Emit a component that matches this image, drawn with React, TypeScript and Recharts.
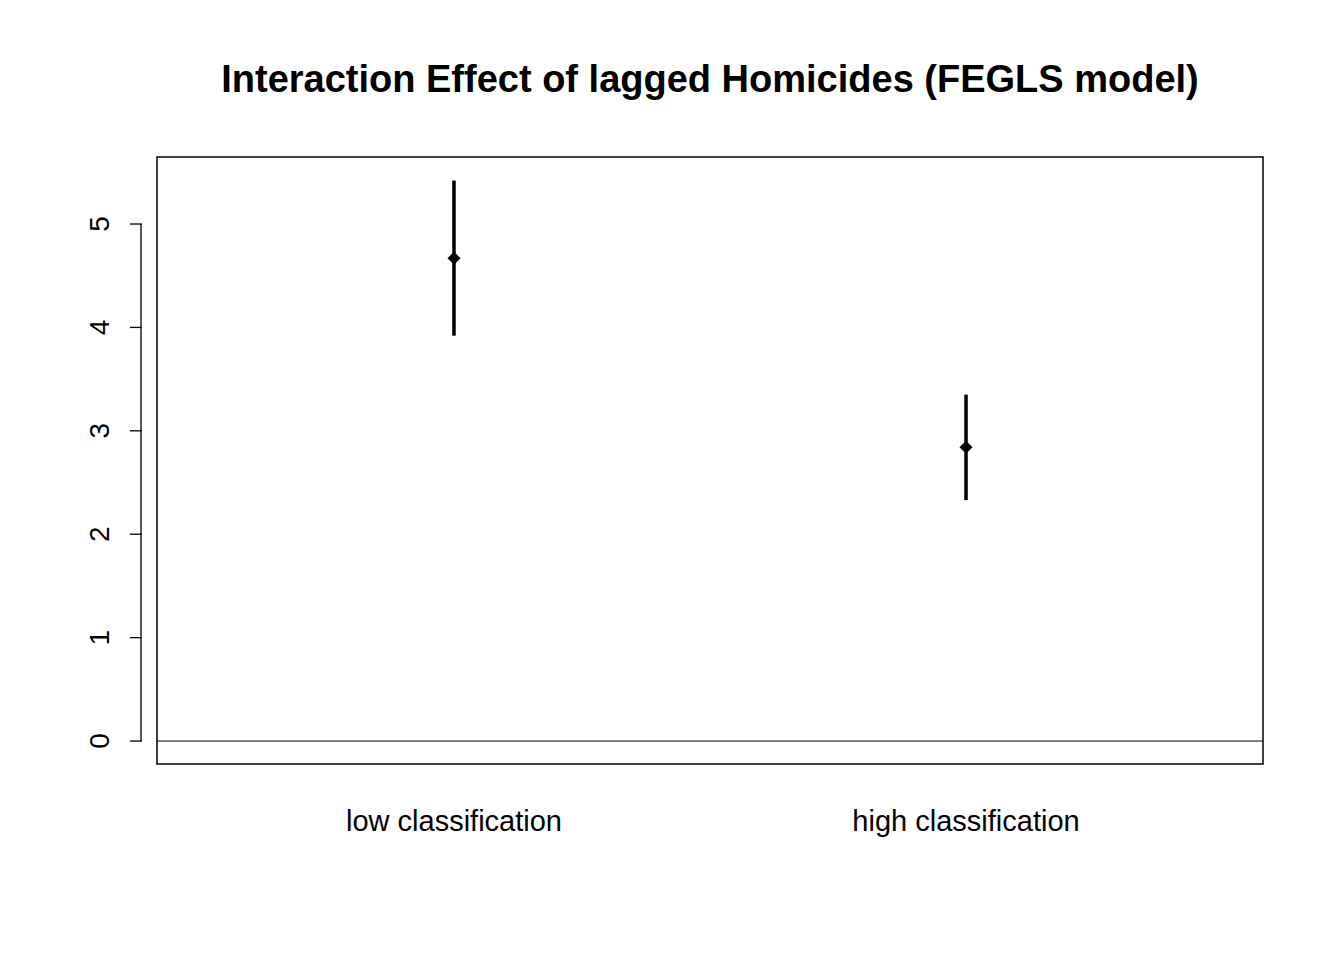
import { ComposedChart, Scatter, ErrorBar, XAxis, YAxis, ReferenceLine, ReferenceArea } from "recharts";

const categories = ["low classification", "high classification"];
const positions = [1, 2];
const estimates = [4.67, 2.84];
const lower = [3.92, 2.33];
const upper = [5.42, 3.35];
const yTicks = [0, 1, 2, 3, 4, 5];

const data = positions.map((x, i) => ({
  x,
  y: estimates[i],
  err: [estimates[i] - lower[i], upper[i] - estimates[i]],
}));

const X_DOMAIN: [number, number] = [0.42, 2.58];
const Y_DOMAIN: [number, number] = [-0.222, 5.648];
const font = "'Liberation Sans', Arial, sans-serif";

function YTick(props: any) {
  const { x, y, payload } = props;
  const ax = x - 7;
  return (
    <g>
      <line x1={ax} x2={ax - 12} y1={y} y2={y} stroke="#000" strokeWidth={1.3} />
      <text x={ax - 42} y={y} transform={`rotate(-90 ${ax - 42} ${y})`} textAnchor="middle" dominantBaseline="central" fontSize={28} fontFamily={font} fill="#000">
        {payload.value}
      </text>
    </g>
  );
}

function XTick(props: any) {
  const { x, y, payload } = props;
  const i = positions.indexOf(payload.value);
  return (
    <text x={x} y={y + 59} textAnchor="middle" fontSize={29} fontFamily={font} fill="#000">
      {categories[i]}
    </text>
  );
}

function Diamond(props: any) {
  const { cx, cy } = props;
  const r = 6.5;
  return <path d={`M${cx},${cy - r}L${cx + r},${cy}L${cx},${cy + r}L${cx - r},${cy}Z`} fill="#000" />;
}

export default function App() {
  return (
    <div style={{ position: "absolute", left: 0, top: 0, width: 1344, height: 960, background: "#fff" }}>
      <div style={{ position: "absolute", left: 0, width: 1420, top: 58, textAlign: "center", fontFamily: font, fontWeight: "bold", fontSize: 38 }}>
        Interaction Effect of lagged Homicides (FEGLS model)
      </div>
      <ComposedChart width={1344} height={960} data={data} margin={{ top: 157, right: 81, left: 97, bottom: 136 }}>
        <XAxis type="number" dataKey="x" domain={X_DOMAIN} ticks={positions} axisLine={false} tickLine={false} tick={<XTick />} height={60} allowDataOverflow />
        <YAxis type="number" domain={Y_DOMAIN} ticks={yTicks} axisLine={false} tickLine={false} tick={<YTick />} width={60} allowDataOverflow />
        <ReferenceArea x1={X_DOMAIN[0]} x2={X_DOMAIN[1]} y1={Y_DOMAIN[0]} y2={Y_DOMAIN[1]} fill="none" stroke="#000" strokeWidth={1.5} fillOpacity={0} />
        <ReferenceLine y={0} stroke="#000" strokeWidth={1} />
        <ReferenceLine
          segment={[{ x: X_DOMAIN[0] - 16 / 512, y: 0 }, { x: X_DOMAIN[0] - 16 / 512, y: 5 }]}
          stroke="#000"
          strokeWidth={1.3}
          ifOverflow="visible"
        />
        <Scatter dataKey="y" shape={<Diamond />} isAnimationActive={false}>
          <ErrorBar dataKey="err" direction="y" width={0} stroke="#000" strokeWidth={3.5} isAnimationActive={false} />
        </Scatter>
      </ComposedChart>
    </div>
  );
}
